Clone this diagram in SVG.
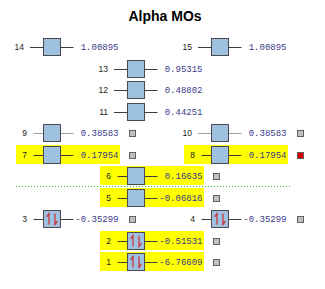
<svg xmlns="http://www.w3.org/2000/svg" xmlns:xlink="http://www.w3.org/1999/xlink" width="325" height="289" viewBox="0 0 325 289">
<style>
.title{font-family:"Liberation Sans",Arial,sans-serif;font-size:14px;font-weight:bold;fill:#000;text-anchor:middle}
.lbl{font-family:"Liberation Sans",Arial,sans-serif;font-size:8.5px;fill:#222;text-anchor:end}
.val{font-family:"Liberation Mono","DejaVu Sans Mono",monospace;font-size:9px;fill:#3a3a88;text-anchor:end}
.box{fill:#9fc1e1;stroke:#4a4a4a;stroke-width:1}
.hl{fill:#ffff00}
.lv{stroke:#3c3c3c;stroke-width:1}
.lv2{stroke:#a0a0a0;stroke-width:1}
.mk{fill:#c0c0c0;stroke:#606060;stroke-width:1}
.mkr{fill:#dd0000;stroke:#606060;stroke-width:1}
.e{fill:none;stroke:#d02020;stroke-width:1.1}
</style>
<defs>
<g id="pair">
<path class="e" d="M5.5,14 V3 L3,6.5 M11.5,3 V14 L14,10.5"/>
</g>
</defs>
<rect width="325" height="289" fill="#fff"/>
<text class="title" x="165" y="21">Alpha MOs</text>

<g id="highlights">
<rect class="hl" x="16" y="145" width="104" height="19"/>
<rect class="hl" x="184" y="145" width="104" height="19"/>
<rect class="hl" x="100" y="166" width="104" height="19"/>
<rect class="hl" x="100" y="188" width="104" height="19"/>
<rect class="hl" x="100" y="231" width="104" height="19"/>
<rect class="hl" x="100" y="252" width="104" height="19"/>
</g>

<line x1="16" y1="186.5" x2="290" y2="186.5" stroke="#33bb33" stroke-width="1" stroke-dasharray="1,2"/>

<g id="connectors">
<line class="lv" x1="30" y1="47.5" x2="43.5" y2="47.5"/><line class="lv" x1="60.5" y1="47.5" x2="73.5" y2="47.5"/>
<line class="lv" x1="198" y1="47.5" x2="211.5" y2="47.5"/><line class="lv" x1="228.5" y1="47.5" x2="241.5" y2="47.5"/>
<line class="lv" x1="114" y1="69.5" x2="127.5" y2="69.5"/><line class="lv" x1="144.5" y1="69.5" x2="157.5" y2="69.5"/>
<line class="lv" x1="114" y1="90.5" x2="127.5" y2="90.5"/><line class="lv" x1="144.5" y1="90.5" x2="157.5" y2="90.5"/>
<line class="lv" x1="114" y1="112.5" x2="127.5" y2="112.5"/><line class="lv" x1="144.5" y1="112.5" x2="157.5" y2="112.5"/>
<line class="lv2" x1="33.5" y1="133.5" x2="43.5" y2="133.5"/><line class="lv2" x1="60.5" y1="133.5" x2="73.5" y2="133.5"/>
<line class="lv2" x1="198" y1="133.5" x2="211.5" y2="133.5"/><line class="lv2" x1="228.5" y1="133.5" x2="241.5" y2="133.5"/>
<line class="lv" x1="33.5" y1="155.5" x2="43.5" y2="155.5"/><line class="lv" x1="60.5" y1="155.5" x2="73.5" y2="155.5"/>
<line class="lv" x1="201.5" y1="155.5" x2="211.5" y2="155.5"/><line class="lv" x1="228.5" y1="155.5" x2="241.5" y2="155.5"/>
<line class="lv" x1="117.5" y1="176.5" x2="127.5" y2="176.5"/><line class="lv" x1="144.5" y1="176.5" x2="157.5" y2="176.5"/>
<line class="lv" x1="117.5" y1="198.5" x2="127.5" y2="198.5"/><line class="lv" x1="144.5" y1="198.5" x2="157.5" y2="198.5"/>
<line class="lv" x1="33.5" y1="219.5" x2="43.5" y2="219.5"/><line class="lv" x1="60.5" y1="219.5" x2="73.5" y2="219.5"/>
<line class="lv" x1="201.5" y1="219.5" x2="211.5" y2="219.5"/><line class="lv" x1="228.5" y1="219.5" x2="241.5" y2="219.5"/>
<line class="lv" x1="117.5" y1="241.5" x2="127.5" y2="241.5"/><line class="lv" x1="144.5" y1="241.5" x2="157.5" y2="241.5"/>
<line class="lv" x1="117.5" y1="262.5" x2="127.5" y2="262.5"/><line class="lv" x1="144.5" y1="262.5" x2="157.5" y2="262.5"/>
</g>

<g id="mo14"><text class="lbl" x="24" y="50">14</text><rect class="box" x="43.5" y="38.5" width="17" height="17"/><text class="val" x="118.5" y="50">1.00895</text></g>
<g id="mo15"><text class="lbl" x="192" y="50">15</text><rect class="box" x="211.5" y="38.5" width="17" height="17"/><text class="val" x="286.5" y="50">1.00895</text></g>
<g id="mo13"><text class="lbl" x="108" y="72">13</text><rect class="box" x="127.5" y="60.5" width="17" height="17"/><text class="val" x="202.5" y="72">0.95315</text></g>
<g id="mo12"><text class="lbl" x="108" y="93">12</text><rect class="box" x="127.5" y="81.5" width="17" height="17"/><text class="val" x="202.5" y="93">0.48802</text></g>
<g id="mo11"><text class="lbl" x="108" y="115">11</text><rect class="box" x="127.5" y="103.5" width="17" height="17"/><text class="val" x="202.5" y="115">0.44251</text></g>
<g id="mo9"><text class="lbl" x="27" y="136">9</text><rect class="box" x="43.5" y="124.5" width="17" height="17"/><text class="val" x="118.5" y="136">0.38583</text><rect class="mk" x="129.5" y="130.5" width="6" height="6"/></g>
<g id="mo10"><text class="lbl" x="192" y="136">10</text><rect class="box" x="211.5" y="124.5" width="17" height="17"/><text class="val" x="286.5" y="136">0.38583</text><rect class="mk" x="297.5" y="130.5" width="6" height="6"/></g>
<g id="mo7"><text class="lbl" x="27" y="158">7</text><rect class="box" x="43.5" y="146.5" width="17" height="17"/><text class="val" x="118.5" y="158">0.17954</text><rect class="mk" x="129.5" y="152.5" width="6" height="6"/></g>
<g id="mo8"><text class="lbl" x="195" y="158">8</text><rect class="box" x="211.5" y="146.5" width="17" height="17"/><text class="val" x="286.5" y="158">0.17954</text><rect class="mkr" x="297.5" y="152.5" width="6" height="6"/></g>
<g id="mo6"><text class="lbl" x="111" y="179">6</text><rect class="box" x="127.5" y="167.5" width="17" height="17"/><text class="val" x="202.5" y="179">0.16635</text><rect class="mk" x="213.5" y="173.5" width="6" height="6"/></g>
<g id="mo5"><text class="lbl" x="111" y="201">5</text><rect class="box" x="127.5" y="189.5" width="17" height="17"/><text class="val" x="202.5" y="201">-0.06816</text><rect class="mk" x="213.5" y="195.5" width="6" height="6"/></g>
<g id="mo3"><text class="lbl" x="27" y="222">3</text><rect class="box" x="43.5" y="210.5" width="17" height="17"/><use xlink:href="#pair" x="43.5" y="210.5"/><text class="val" x="118.5" y="222">-0.35299</text><rect class="mk" x="129.5" y="216.5" width="6" height="6"/></g>
<g id="mo4"><text class="lbl" x="195" y="222">4</text><rect class="box" x="211.5" y="210.5" width="17" height="17"/><use xlink:href="#pair" x="211.5" y="210.5"/><text class="val" x="286.5" y="222">-0.35299</text><rect class="mk" x="297.5" y="216.5" width="6" height="6"/></g>
<g id="mo2"><text class="lbl" x="111" y="244">2</text><rect class="box" x="127.5" y="232.5" width="17" height="17"/><use xlink:href="#pair" x="127.5" y="232.5"/><text class="val" x="202.5" y="244">-0.51531</text><rect class="mk" x="213.5" y="238.5" width="6" height="6"/></g>
<g id="mo1"><text class="lbl" x="111" y="265">1</text><rect class="box" x="127.5" y="253.5" width="17" height="17"/><use xlink:href="#pair" x="127.5" y="253.5"/><text class="val" x="202.5" y="265">-6.76609</text><rect class="mk" x="213.5" y="259.5" width="6" height="6"/></g>
</svg>
